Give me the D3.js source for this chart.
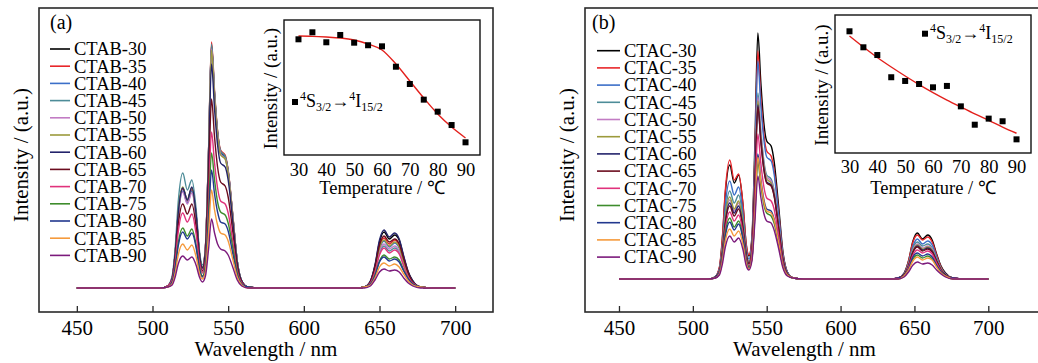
<!DOCTYPE html>
<html>
<head>
<meta charset="utf-8">
<script src="https://cdn.jsdelivr.net/npm/d3@7"></script>
<style>
  body { margin: 0; background: #fff; }
  svg text { font-family: "Liberation Serif", "Times New Roman", serif; fill: #000; }
</style>
</head>
<body>
<div id="chart"></div>
<script>
// temperatures of the 13 spectra (legend order)
const temperatures = [30, 35, 40, 45, 50, 55, 60, 65, 70, 75, 80, 85, 90];
const seriesColors = ['#000000', '#e8262a', '#3b6fc8', '#4d8c98', '#c27cc4', '#9c9a3c', '#23236b',
                      '#6b0c1e', '#e0327c', '#3e8c2c', '#22388e', '#f59a3c', '#7c1a7c'];
const xTickValues = [450, 500, 550, 600, 650, 700];

// wavelength grid (nm) of the sampled spectra
const wavelengthsA = [450, 505, 510, 513, 515, 517, 520, 523, 526, 529, 531, 533,
                      535, 537, 539, 541, 543, 545, 548, 550, 553, 556, 559, 563, 570,
                      635, 640, 644, 647, 650, 653, 656.5, 660, 663, 666, 669, 672, 677, 685, 700];
const wavelengthsB = [450, 510, 515, 518, 520, 522, 525, 528, 531, 534, 536, 538,
                      540, 542, 544, 546, 548, 550, 553, 555, 558, 561, 564, 568, 575,
                      634, 639, 643, 646, 649, 652, 655.5, 659, 662, 665, 668, 671, 676, 684, 700];

// emission intensity (a.u.), CTAB samples
const spectraCTAB = [
  [0,0,2,10,35,75,100,88,100,70,35,20, 41,134,243,194,156,136,131,117,73,27,7,1,0, 0,1,7,22,46,56,49,53,48,31,16,7,1,0,0],
  [0,0,2,10,35,74,99,87,98,69,34,20, 42,135,246,197,157,138,133,118,74,27,7,1,0, 0,1,6,20,42,50,44,48,43,28,14,6,1,0,0],
  [0,0,2,10,34,73,97,85,97,68,34,19, 41,133,241,193,154,135,130,116,72,27,7,1,0, 0,1,6,19,39,47,41,45,40,26,13,6,1,0,0],
  [0,0,2,12,40,86,115,98,108,76,38,23, 41,134,244,195,156,137,132,117,73,27,7,1,0, 0,1,5,17,35,42,37,40,36,23,12,5,1,0,0],
  [0,0,2,10,34,72,96,84,95,67,33,19, 41,131,239,191,153,134,129,115,72,26,7,1,0, 0,1,5,18,37,44,39,42,37,24,12,5,1,0,0],
  [0,0,2,10,35,76,101,88,100,70,35,20, 40,131,238,190,152,133,129,114,71,26,7,1,0, 0,1,6,19,40,48,42,46,41,26,13,6,1,0,0],
  [0,0,2,10,35,75,100,88,101,71,35,20, 38,123,224,179,143,125,121,108,67,25,7,1,0, 0,1,7,23,48,58,51,55,49,32,16,7,1,0,0],
  [0,0,2,8,29,63,84,74,84,59,29,17, 32,104,189,151,121,106,102,91,57,21,6,1,0, 0,1,6,21,43,52,46,49,44,29,15,6,1,0,0],
  [0,0,2,8,26,56,75,66,74,52,26,15, 27,86,156,125,100,87,84,75,47,17,5,1,0, 0,1,5,16,33,40,35,38,34,22,11,5,1,0,0],
  [0,0,1,6,21,45,60,52,59,41,21,12, 23,74,135,108,86,76,73,65,41,15,4,1,0, 0,1,4,13,27,33,29,31,28,18,9,4,1,0,0],
  [0,0,1,6,20,42,56,49,55,39,19,11, 20,65,118,94,76,66,64,57,35,13,4,1,0, 0,1,4,12,26,31,27,29,26,17,9,4,1,0,0],
  [0,0,1,4,15,33,44,38,43,30,15,9, 17,54,98,78,63,55,53,47,29,11,3,0,0, 0,1,3,10,21,25,22,24,21,14,7,3,1,0,0],
  [0,0,1,3,11,24,32,28,31,22,11,6, 12,38,69,55,44,39,37,33,21,8,2,0,0, 0,0,2,8,16,19,17,18,16,10,5,2,0,0,0]
];

// emission intensity (a.u.), CTAC samples
const spectraCTAC = [
  [0,0,2,11,40,86,114,96,104,73,36,23, 42,135,246,197,157,138,133,118,74,27,7,1,0, 0,1,6,18,38,46,40,44,39,25,13,6,1,0,0],
  [0,0,2,12,42,89,119,99,105,74,37,24, 39,125,228,182,146,128,123,109,68,25,7,1,0, 0,1,5,18,37,44,39,42,37,24,12,5,1,0,0],
  [0,0,2,10,34,74,98,84,92,64,32,20, 37,120,218,174,140,122,118,105,65,24,7,1,0, 0,1,5,16,33,40,35,38,34,22,11,5,1,0,0],
  [0,0,2,9,31,66,88,76,84,59,29,18, 32,102,186,149,119,104,100,89,56,20,6,1,0, 0,1,4,15,31,37,33,35,31,20,10,4,1,0,0],
  [0,0,2,8,28,59,79,68,76,53,27,16, 31,100,182,146,116,102,98,87,55,20,5,1,0, 0,1,4,14,29,35,31,33,30,19,10,4,1,0,0],
  [0,0,2,8,29,62,82,70,78,55,27,16, 30,98,178,142,114,100,96,85,53,20,5,1,0, 0,1,4,14,28,34,30,32,29,19,10,4,1,0,0],
  [0,0,2,8,27,57,76,66,73,51,26,15, 30,96,174,139,111,97,94,84,52,19,5,1,0, 0,1,4,13,27,33,29,31,28,18,9,4,1,0,0],
  [0,0,1,7,26,55,73,63,70,49,25,15, 29,95,172,138,110,96,93,83,52,19,5,1,0, 0,1,4,13,27,32,28,30,27,18,9,4,1,0,0],
  [0,0,1,7,23,50,67,58,64,45,22,13, 25,80,145,116,93,81,78,70,44,16,4,1,0, 0,1,3,12,24,29,26,28,25,16,8,3,1,0,0],
  [0,0,1,6,21,46,61,52,58,41,20,12, 20,64,117,94,75,66,63,56,35,13,4,1,0, 0,0,3,10,20,24,21,23,20,13,7,3,0,0,0],
  [0,0,1,6,20,43,57,49,55,39,19,11, 21,69,125,100,80,70,68,60,38,14,4,1,0, 0,1,3,10,22,26,23,25,22,14,7,3,1,0,0],
  [0,0,1,5,18,38,50,43,48,34,17,10, 21,67,122,98,78,68,66,59,37,13,4,1,0, 0,0,3,9,18,22,19,21,19,12,6,3,0,0,0],
  [0,0,1,4,15,32,43,37,41,29,14,9, 18,57,103,82,66,58,56,49,31,11,3,1,0, 0,0,2,7,14,17,15,16,14,9,5,2,0,0,0]
];

// insets: 4S3/2 -> 4I15/2 integrated intensity vs temperature, plus fitted curve
const insetTicks = [30, 40, 50, 60, 70, 80, 90];
const insetCTAB = [85.7, 90.9, 83.5, 88.9, 83.2, 81.3, 80.5, 65.4, 52.6, 41.0, 32.1, 22.2, 9.4];
const fitCTAB = [88.1, 87.9, 87.4, 86.7, 85.2, 82.2, 77.8, 67.4, 54.8, 42.2, 30.4, 20.7, 12.6];
const insetCTAC = [88.2, 76.6, 71.0, 54.9, 52.2, 50.0, 47.6, 48.6, 33.8, 20.5, 24.9, 23.0, 9.9];
const fitCTAC = [84.8, 76.8, 69.2, 62.3, 55.8, 49.6, 43.8, 38.4, 33.3, 28.3, 23.6, 18.8, 14.3];

const width = 1038, height = 363;
const svg = d3.select('#chart').append('svg')
    .attr('width', width)
    .attr('height', height);

function drawPanel(cfg) {
    const xScale = d3.scaleLinear().domain(cfg.xDomain).range([cfg.left, cfg.right]);
    const yScale = d3.scaleLinear().domain(cfg.yDomain).range([312, 8]);
    const g = svg.append('g');

    // spectra, 30 first so 90 ends on top
    const line = d3.line()
        .x((d) => xScale(d[0]))
        .y((d) => yScale(d[1]))
        .curve(d3.curveMonotoneX);
    g.append('g')
        .selectAll('path')
        .data(cfg.spectra)
        .join('path')
        .attr('d', (s) => line(cfg.wavelengths.map((w, i) => [w, s[i]])))
        .attr('fill', 'none')
        .attr('stroke', (s, i) => seriesColors[i])
        .attr('stroke-width', 1.4);

    // frame
    g.append('rect')
        .attr('x', cfg.left).attr('y', 8)
        .attr('width', cfg.right - cfg.left).attr('height', 304)
        .attr('fill', 'none').attr('stroke', '#2a2a2a').attr('stroke-width', 1.6);

    // x axis, ticks pointing inward
    const xAxis = g.append('g')
        .attr('transform', 'translate(0,312)')
        .call(d3.axisBottom(xScale).tickValues(xTickValues).tickSizeInner(-6).tickSizeOuter(0).tickPadding(8));
    xAxis.select('.domain').remove();
    xAxis.selectAll('line').attr('stroke', '#2a2a2a').attr('stroke-width', 1.3);
    xAxis.selectAll('text').attr('font-size', 21).attr('font-family', '"Liberation Serif", serif');

    g.append('text')
        .attr('x', (cfg.left + Math.min(cfg.right, 1038)) / 2 + cfg.titleShift)
        .attr('y', 356)
        .attr('text-anchor', 'middle')
        .attr('font-size', 21)
        .text('Wavelength / nm');

    g.append('text')
        .attr('transform', `translate(${cfg.yTitleX},155) rotate(-90)`)
        .attr('text-anchor', 'middle')
        .attr('font-size', 21)
        .text('Intensity / (a.u.)');

    g.append('text')
        .attr('x', cfg.tagX).attr('y', 29)
        .attr('font-size', 20)
        .text(cfg.tag);

    // legend
    const legend = g.append('g')
        .selectAll('g')
        .data(temperatures)
        .join('g')
        .attr('transform', (d, i) => `translate(0, ${cfg.legendY + i * 17.2})`);
    legend.append('line')
        .attr('x1', cfg.legendX).attr('x2', cfg.legendX + cfg.legendLen)
        .attr('y1', 0).attr('y2', 0)
        .attr('stroke', (d, i) => seriesColors[i])
        .attr('stroke-width', 1.6);
    legend.append('text')
        .attr('x', cfg.legendX + cfg.legendLen + 4)
        .attr('y', 6.3)
        .attr('font-size', 18.5)
        .text((d) => `${cfg.name}-${d}`);
}

function drawInset(cfg) {
    const xScale = d3.scaleLinear().domain([24.8, 95.2]).range([cfg.left, cfg.right]);
    const yScale = d3.scaleLinear().domain([0, 100]).range([cfg.bottom, cfg.top]);
    const g = svg.append('g');

    g.append('rect')
        .attr('x', cfg.left).attr('y', cfg.top)
        .attr('width', cfg.right - cfg.left).attr('height', cfg.bottom - cfg.top)
        .attr('fill', '#fff').attr('stroke', '#111').attr('stroke-width', 1.4);

    const fitLine = d3.line()
        .x((d, i) => xScale(temperatures[i]))
        .y((d) => yScale(d))
        .curve(d3.curveMonotoneX);
    g.append('path')
        .attr('d', fitLine(cfg.fit))
        .attr('fill', 'none')
        .attr('stroke', '#e3201c')
        .attr('stroke-width', 1.4);

    g.append('g')
        .selectAll('rect')
        .data(cfg.values)
        .join('rect')
        .attr('x', (d, i) => xScale(temperatures[i]) - 3)
        .attr('y', (d) => yScale(d) - 3)
        .attr('width', 6).attr('height', 6)
        .attr('fill', '#000');

    const axis = g.append('g')
        .attr('transform', `translate(0,${cfg.bottom})`)
        .call(d3.axisBottom(xScale).tickValues(insetTicks).tickSize(0).tickPadding(cfg.tickPad));
    axis.select('.domain').remove();
    axis.selectAll('text').attr('font-size', 18.5).attr('font-family', '"Liberation Serif", serif');

    g.append('text')
        .attr('x', (cfg.left + cfg.right) / 2)
        .attr('y', 194)
        .attr('text-anchor', 'middle')
        .attr('font-size', 18.5)
        .text('Temperature / \u2103');

    g.append('text')
        .attr('transform', `translate(${cfg.left - 7},${(cfg.top + cfg.bottom) / 2 + 1}) rotate(-90)`)
        .attr('text-anchor', 'middle')
        .attr('font-size', 19)
        .text('Intensity / (a.u.)');

    // legend: marker + transition label
    g.append('rect')
        .attr('x', cfg.keyX - 3).attr('y', cfg.keyY - 3)
        .attr('width', 6).attr('height', 6)
        .attr('fill', '#000');
    const t = g.append('text')
        .attr('x', cfg.keyX + 5).attr('y', cfg.keyY + 5)
        .attr('font-size', 18);
    t.append('tspan').attr('font-size', 12).attr('dy', -7).text('4');
    t.append('tspan').attr('dy', 7).text('S');
    t.append('tspan').attr('font-size', 12).attr('dy', 4).text('3/2');
    t.append('tspan').attr('dy', -4).text('\u2192');
    t.append('tspan').attr('font-size', 12).attr('dy', -7).text('4');
    t.append('tspan').attr('dy', 7).text('I');
    t.append('tspan').attr('font-size', 12).attr('dy', 4).text('15/2');
}

drawPanel({
    name: 'CTAB', tag: '(a)', tagX: 50,
    spectra: spectraCTAB, wavelengths: wavelengthsA,
    xDomain: [425, 725], left: 39, right: 493,
    yDomain: [-24, 280], yTitleX: 28,
    legendX: 50, legendLen: 20, legendY: 49, titleShift: 0
});
drawPanel({
    name: 'CTAC', tag: '(b)', tagX: 592,
    spectra: spectraCTAC, wavelengths: wavelengthsB,
    xDomain: [427, 735], left: 585, right: 1040,
    yDomain: [-33, 271], yTitleX: 574,
    legendX: 597, legendLen: 23, legendY: 50.7, titleShift: -7
});

drawInset({
    values: insetCTAB, fit: fitCTAB,
    left: 284, right: 480, top: 20, bottom: 155, tickPad: 8,
    keyX: 295, keyY: 102
});
drawInset({
    values: insetCTAC, fit: fitCTAC,
    left: 835, right: 1031, top: 15, bottom: 153, tickPad: 7,
    keyX: 925, keyY: 33.7
});
</script>
</body>
</html>
